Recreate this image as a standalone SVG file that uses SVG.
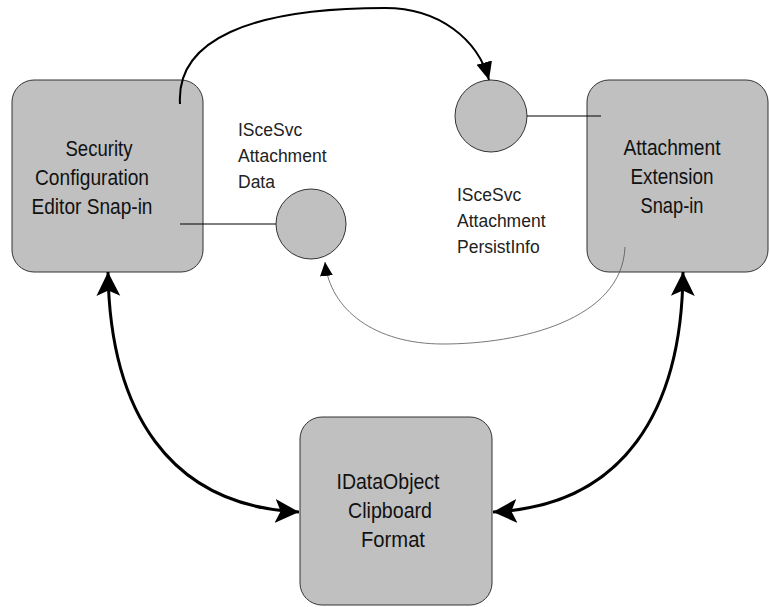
<svg xmlns="http://www.w3.org/2000/svg" width="770" height="607" viewBox="0 0 770 607">
<style>
.box{fill:#c0c0c0;stroke:#333;stroke-width:1}
.t{font-family:"Liberation Sans",Arial,sans-serif;font-size:22px;fill:#111;text-anchor:middle}
.lbl{font-family:"Liberation Sans",Arial,sans-serif;font-size:17.5px;fill:#222}
.thick{fill:none;stroke:#000;stroke-width:3}
.med{fill:none;stroke:#000;stroke-width:2}
.thin{fill:none;stroke:#000;stroke-width:1}
.gray{fill:none;stroke:#555;stroke-width:0.8}
</style>
<defs>
<marker id="big" markerUnits="userSpaceOnUse" markerWidth="26" markerHeight="26" refX="22" refY="12" orient="auto-start-reverse" viewBox="0 0 24 24">
<path d="M0,1 L22,12 L0,23 L5,12 Z" fill="#000"/>
</marker>
<marker id="mid" markerUnits="userSpaceOnUse" markerWidth="20" markerHeight="20" refX="18" refY="8" orient="auto" viewBox="0 0 20 16">
<path d="M0,0 L18,8 L0,16 Z" fill="#000"/>
</marker>
<marker id="small" markerUnits="userSpaceOnUse" markerWidth="16" markerHeight="14" refX="14" refY="6.5" orient="auto" viewBox="0 0 16 13">
<path d="M0,0 L14,6.5 L0,13 Z" fill="#000"/>
</marker>
</defs>
<g id="sce">
<rect class="box" x="12" y="80" width="191" height="192" rx="22"/>
<text class="t" x="99" y="156" textLength="67" lengthAdjust="spacingAndGlyphs">Security</text>
<text class="t" x="92" y="185" textLength="114" lengthAdjust="spacingAndGlyphs">Configuration</text>
<text class="t" x="92" y="214" textLength="121" lengthAdjust="spacingAndGlyphs">Editor Snap-in</text>
</g>
<g id="attachData">
<circle class="box" cx="311" cy="224" r="35"/>
</g>
<g id="persistInfo">
<circle class="box" cx="491" cy="116" r="36"/>
</g>
<g id="ext">
<rect class="box" x="587" y="80" width="181" height="192" rx="22"/>
<text class="t" x="672" y="155" textLength="97" lengthAdjust="spacingAndGlyphs">Attachment</text>
<text class="t" x="672" y="184" textLength="83" lengthAdjust="spacingAndGlyphs">Extension</text>
<text class="t" x="672" y="213" textLength="63" lengthAdjust="spacingAndGlyphs">Snap-in</text>
</g>
<g id="clip">
<rect class="box" x="300" y="417" width="192" height="188" rx="22"/>
<text class="t" x="388" y="489" textLength="103" lengthAdjust="spacingAndGlyphs">IDataObject</text>
<text class="t" x="390" y="518" textLength="84" lengthAdjust="spacingAndGlyphs">Clipboard</text>
<text class="t" x="393" y="547" textLength="64" lengthAdjust="spacingAndGlyphs">Format</text>
</g>
<g id="labels">
<text class="lbl" x="238" y="136">ISceSvc</text>
<text class="lbl" x="238" y="162">Attachment</text>
<text class="lbl" x="238" y="188">Data</text>
<text class="lbl" x="457" y="201">ISceSvc</text>
<text class="lbl" x="457" y="227">Attachment</text>
<text class="lbl" x="457" y="253">PersistInfo</text>
</g>
<g id="connectors">
<path class="med" d="M180,104 C176,40 250,8 385,8 C440,8 478,40 489,80" marker-end="url(#mid)"/>
<path class="thin" d="M180,224 L276,224"/>
<path class="thin" d="M527,116 L601,116"/>
<path class="gray" d="M625,247 C622,320 520,344 443,344 C375,344 330,310 325,262" marker-end="url(#small)"/>
<path class="thick" d="M108,272 C110,410 168,506 299,512" marker-start="url(#big)" marker-end="url(#big)"/>
<path class="thick" d="M683,272 C682,410 624,506 493,512" marker-start="url(#big)" marker-end="url(#big)"/>
</g>
</svg>
